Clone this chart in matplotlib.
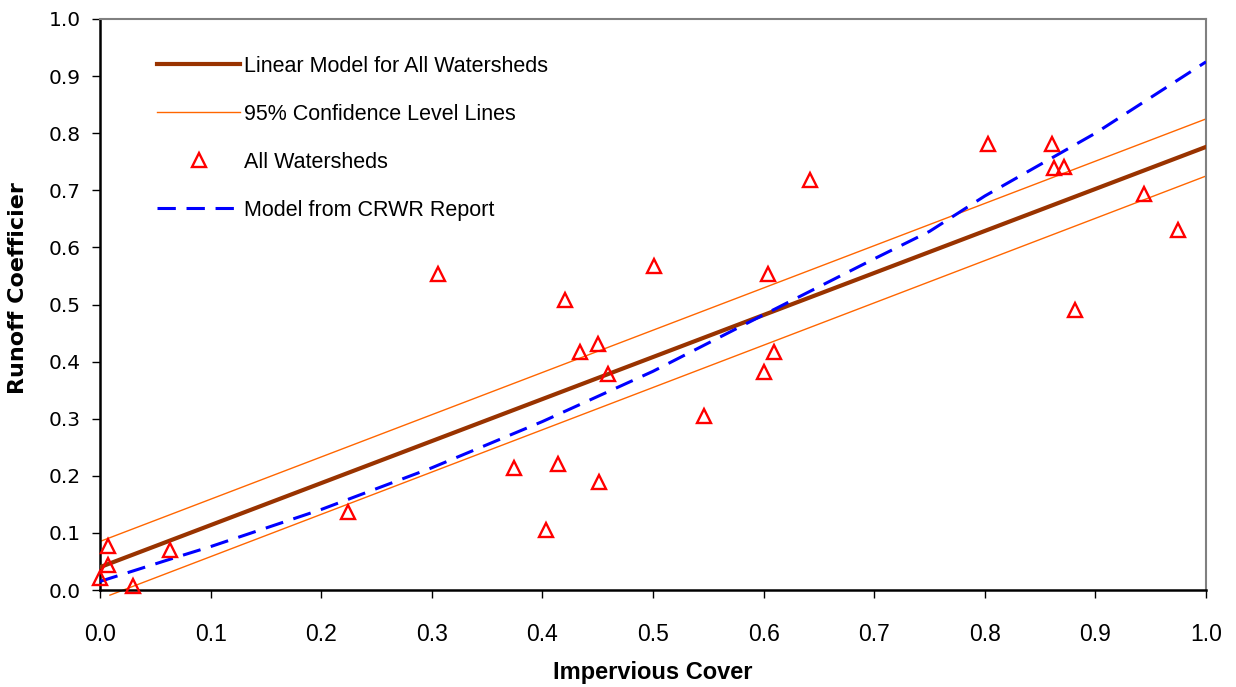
import matplotlib
matplotlib.use("Agg")
import matplotlib.pyplot as plt
import numpy as np

plt.rcParams['font.family'] = ['Liberation Sans', 'DejaVu Sans']

# Observed watersheds
imp_cover = [0.000, 0.007, 0.007, 0.030, 0.063, 0.224, 0.306, 0.374, 0.403, 0.414,
             0.420, 0.434, 0.450, 0.451, 0.459, 0.501, 0.546, 0.600, 0.604, 0.609,
             0.642, 0.803, 0.861, 0.863, 0.872, 0.882, 0.944, 0.975]
runoff = [0.021, 0.077, 0.044, 0.007, 0.070, 0.137, 0.553, 0.214, 0.105, 0.220,
          0.508, 0.417, 0.431, 0.189, 0.378, 0.567, 0.305, 0.382, 0.553, 0.417,
          0.718, 0.781, 0.781, 0.739, 0.741, 0.490, 0.694, 0.630]

# Linear model and confidence lines
lin_x = [0.0, 1.0]
lin_y = [0.040, 0.776]
upper_x = [0.0, 1.0]
upper_y = [0.085, 0.825]
lower_x = [0.009, 1.0]
lower_y = [-0.009, 0.725]

# Model from CRWR report
crwr_x = [0.0, 0.07, 0.1, 0.2, 0.3, 0.4, 0.5, 0.6, 0.7, 0.75, 0.8, 0.9, 1.0]
crwr_y = [0.015, 0.058, 0.076, 0.141, 0.214, 0.295, 0.383, 0.482, 0.580, 0.628, 0.690, 0.800, 0.925]

tick_vals = np.arange(0, 1.01, 0.1)
tick_labels = [f'{v:.1f}' for v in tick_vals]

fig = plt.figure(figsize=(12.36, 6.87), dpi=100)
ax = fig.add_axes([100/1236, 1-590/687, 1106/1236, 571/687])

ax.plot(lin_x, lin_y, color='#993300', lw=3.0, label='Linear Model for All Watersheds', zorder=3)
ax.plot(upper_x, upper_y, color='#FF6600', lw=1.0, label='95% Confidence Level Lines', zorder=2)
ax.plot(lower_x, lower_y, color='#FF6600', lw=1.0, clip_on=False, zorder=2)
ax.plot(imp_cover, runoff, linestyle='none', marker='^', markersize=10.5, markerfacecolor='none',
        markeredgecolor='#FF0000', markeredgewidth=1.7, label='All Watersheds', zorder=4, clip_on=False)
ax.plot(crwr_x, crwr_y, color='#0000FF', lw=2.2, linestyle=(0, (6, 3.5)),
        label='Model from CRWR Report', zorder=3)

ax.set_xlim(0, 1.0)
ax.set_ylim(0, 1.0)
ax.set_xticks(tick_vals)
ax.set_yticks(tick_vals)
ax.set_xticklabels(tick_labels, fontsize=16.5, family=['Liberation Sans', 'DejaVu Sans'])
ax.set_yticklabels(tick_labels, fontsize=14.5, family=['DejaVu Sans'])
ax.tick_params(axis='both', direction='out', length=6, width=1, colors='#000000')
ax.tick_params(axis='x', pad=17.5)
ax.tick_params(axis='y', pad=8)

for s in ['left', 'bottom']:
    ax.spines[s].set_color('#000000')
    ax.spines[s].set_linewidth(1.8)
for s in ['top', 'right']:
    ax.spines[s].set_color('#808080')
    ax.spines[s].set_linewidth(1.5)

ax.set_xlabel('Impervious Cover', fontsize=17, fontweight='bold', labelpad=11)
fig.text(18/1236, 1-288/687, 'Runoff Coefficier', rotation=90, fontsize=16, fontweight='bold',
         family=['DejaVu Sans'], ha='center', va='center')

leg = ax.legend(loc='upper left', bbox_to_anchor=(0.034, 0.97), frameon=False, fontsize=15.5,
                handlelength=3.86, handletextpad=0.19, labelspacing=1.26, numpoints=1)

fig.savefig('out.png', dpi=100)
